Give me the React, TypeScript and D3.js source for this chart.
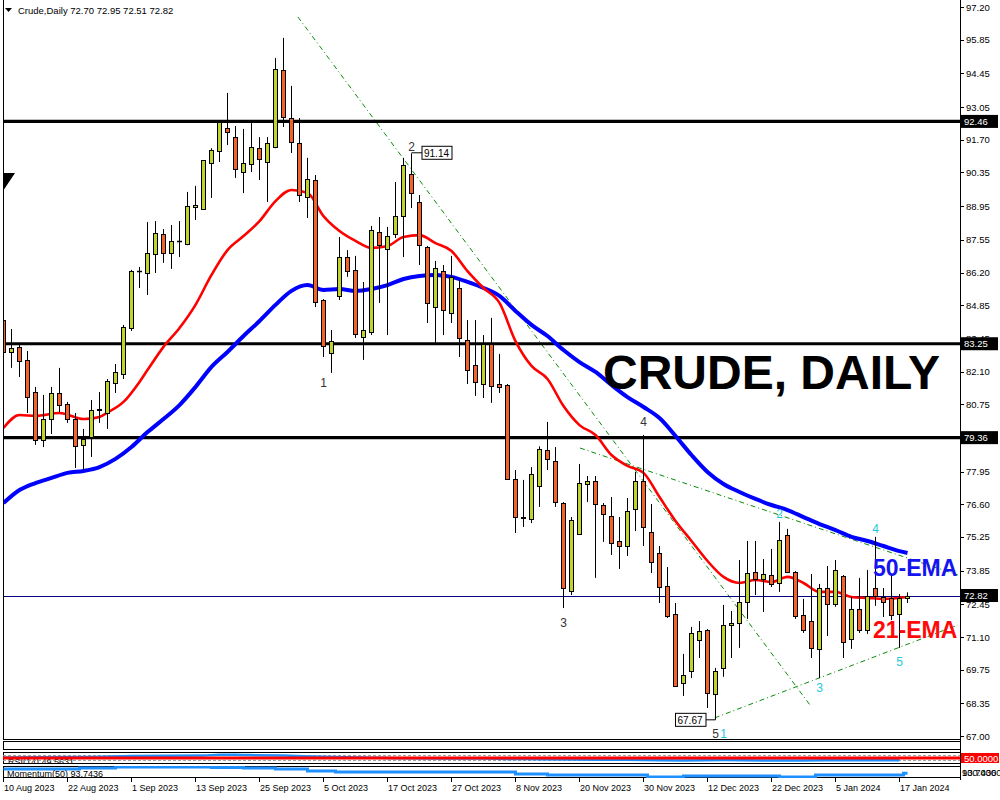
import React from 'react';
import * as d3 from 'd3';

// ---------- DATA (daily candles, 10 Aug 2023 .. 18 Jan 2024) ----------
const opens = [84.23,82.91,83.12,82.58,81.25,79.26,80.13,81.21,80.75,80.13,79.06,79.39,80.51,80.38,81.62,82.00,83.90,86.26,86.18,86.97,87.80,87.01,87.51,87.38,88.92,88.83,90.74,91.23,92.19,91.81,90.36,90.70,91.36,90.78,91.40,94.59,92.60,91.57,89.33,90.03,85.06,82.87,85.23,86.84,86.31,83.53,83.74,87.88,87.18,87.80,88.54,90.28,89.12,87.26,84.77,86.26,84.52,85.56,83.41,82.37,81.58,83.24,81.58,81.54,77.65,76.07,75.99,77.36,78.85,78.39,76.65,73.01,75.37,77.44,77.56,76.57,76.12,75.08,74.87,76.40,77.56,75.45,74.58,73.22,72.06,69.20,69.69,70.98,71.39,68.74,69.82,71.60,71.68,72.55,73.79,73.51,73.67,73.34,75.33,73.79,72.01,71.76,70.61,73.13,72.47,73.63,71.02,72.26,71.39,73.13,72.76,72.72,72.06,72.70];
const highs = [84.94,83.86,83.20,82.95,81.46,81.13,81.46,82.25,80.84,80.38,79.72,80.92,81.25,81.79,82.41,84.03,86.31,86.43,88.29,88.33,88.00,88.17,88.33,89.54,89.79,90.86,91.35,92.50,93.64,92.27,92.15,92.39,91.81,91.81,95.09,95.92,93.93,92.60,90.95,90.24,85.10,83.82,87.67,87.13,86.89,85.81,88.13,88.50,88.09,89.95,90.95,91.14,89.41,87.30,86.68,86.51,86.89,85.89,84.23,84.23,83.61,84.32,82.83,81.58,78.02,77.61,78.14,79.00,80.01,78.97,76.69,76.07,78.27,77.77,77.77,76.65,76.90,76.07,76.86,77.94,79.47,76.61,74.87,74.00,72.51,70.40,71.52,71.76,71.43,69.82,72.43,72.18,74.29,75.08,75.08,74.33,74.75,75.87,75.58,73.83,72.68,73.71,73.30,74.04,74.29,73.67,72.76,73.55,73.88,75.25,73.13,73.67,72.88,72.95];
const lows = [82.66,82.25,81.87,80.38,79.06,78.97,79.51,80.42,79.97,78.10,78.02,78.56,79.97,79.72,81.21,81.79,83.78,85.56,85.27,86.18,86.60,86.35,86.84,87.33,88.38,88.79,89.29,90.78,91.48,90.12,89.49,90.36,90.03,89.12,91.35,92.23,91.15,89.12,88.46,84.77,82.70,82.04,85.06,86.02,83.49,82.58,83.61,84.94,83.61,87.63,86.84,88.87,86.51,84.11,83.20,83.61,84.11,82.70,81.58,81.09,81.00,80.80,81.21,77.61,75.41,75.66,75.82,76.49,78.02,76.49,72.30,72.84,75.33,76.69,73.55,75.04,74.50,73.92,74.46,75.49,74.87,73.75,72.51,71.89,69.03,68.66,69.40,70.23,68.16,67.67,69.45,70.23,70.65,71.85,72.84,72.14,73.17,72.97,73.75,71.85,71.27,70.23,69.40,71.14,72.35,70.23,70.61,71.27,71.23,72.39,71.93,71.80,70.65,72.51];
const closes = [82.91,83.07,82.54,81.04,79.26,80.13,81.21,80.71,80.13,79.01,79.30,80.51,80.53,81.71,82.08,83.94,86.26,86.28,87.01,87.84,87.01,87.51,87.49,88.96,89.00,90.86,91.28,92.44,92.02,90.49,90.74,91.40,90.90,91.57,94.63,92.64,91.61,89.41,90.08,84.98,83.16,83.36,86.84,86.26,83.65,83.82,87.96,87.34,87.71,88.54,90.66,89.49,87.34,84.94,86.39,84.65,86.02,83.49,82.16,81.67,83.24,81.50,81.46,77.65,76.07,76.03,77.85,78.89,78.48,76.69,73.13,75.95,77.48,77.56,76.61,76.20,75.00,74.87,76.32,77.56,75.66,74.21,73.17,71.97,69.07,69.53,71.27,71.35,68.78,69.69,71.60,71.68,72.55,73.75,73.51,73.71,73.30,75.12,73.79,71.97,71.39,70.65,73.13,72.47,73.88,70.90,72.26,71.39,72.80,72.80,72.56,72.01,72.72,72.82];

// 21-EMA and 50-EMA: [bar index, price]
const ema21: [number, number][] = [[0,79.76],[2,80.30],[4,80.26],[7,80.38],[10,80.13],[12,80.22],[13,80.40],[15,80.84],[17,81.67],[18,82.16],[20,83.12],[22,83.90],[24,84.86],[26,86.10],[28,87.13],[30,87.71],[32,88.33],[34,89.16],[36,89.62],[38,89.50],[40,88.54],[42,87.92],[44,87.51],[46,87.22],[48,87.30],[50,87.67],[52,87.75],[54,87.42],[56,87.09],[58,86.26],[60,85.56],[62,84.94],[64,83.36],[66,82.33],[68,81.79],[70,80.67],[72,79.88],[74,79.47],[76,78.64],[78,78.19],[80,77.90],[82,76.90],[84,75.91],[86,75.08],[88,74.25],[90,73.59],[92,73.34],[94,73.46],[96,73.38],[98,73.59],[100,73.34],[102,72.97],[104,72.97],[106,72.76],[108,72.72],[110,72.68],[113,72.76]];
const ema50: [number, number][] = [[0,76.65],[2,77.19],[4,77.48],[6,77.69],[8,77.90],[10,77.98],[12,78.14],[14,78.48],[16,78.97],[18,79.59],[20,80.13],[22,80.71],[24,81.46],[26,82.29],[28,82.91],[30,83.57],[32,84.19],[34,84.86],[36,85.44],[38,85.68],[40,85.48],[42,85.52],[44,85.44],[46,85.52],[48,85.68],[50,85.93],[52,86.06],[54,86.10],[56,86.02],[58,85.81],[60,85.56],[62,85.23],[64,84.61],[66,84.03],[68,83.57],[70,82.99],[72,82.49],[74,82.08],[76,81.54],[78,81.04],[80,80.63],[82,80.17],[84,79.43],[86,78.64],[88,77.94],[90,77.44],[92,77.11],[94,76.82],[96,76.57],[98,76.36],[100,76.07],[102,75.78],[104,75.53],[106,75.25],[108,75.08],[110,74.87],[112,74.66],[113,74.58]];

// indicator panels: [bar index, value]
const rsi: [number, number][] = [[0,55],[10,58],[16,66],[25,70],[27,78],[30,75],[35,70],[40,60],[45,55],[50,48],[60,45],[63,42],[67,40],[75,36],[80,33],[85,30],[90,33],[95,30],[100,30],[105,31],[110,31],[112,32]];
const momentum: [number, number][] = [[0,106.3],[7,106.3],[12,109.2],[16,112.1],[24,112.1],[28,110.6],[32,109.2],[36,106.3],[40,100.4],[43,97.5],[50,97.5],[56,97.5],[62,97.5],[66,91.7],[70,88.8],[78,88.8],[83,82.9],[87,85.8],[95,85.8],[99,82.9],[104,88.8],[108,88.8],[112,88.8],[113,93.74]];

const priceTicks = [97.20,95.85,94.45,93.05,91.70,90.35,88.95,87.55,86.20,84.85,83.45,82.10,80.75,79.40,77.95,76.60,75.25,73.85,72.45,71.10,69.75,68.35,67.00];
const levels = [92.46, 83.25, 79.36];
const lastPrice = 72.82;
const dateBars = [0,8,16,24,32,40,48,56,64,72,80,88,96,104,112];
const dateLabels = ['10 Aug 2023','22 Aug 2023','1 Sep 2023','13 Sep 2023','25 Sep 2023','5 Oct 2023','17 Oct 2023','27 Oct 2023','8 Nov 2023','20 Nov 2023','30 Nov 2023','12 Dec 2023','22 Dec 2023','5 Jan 2024','17 Jan 2024'];

// Elliott wave labels: text, bar, price, colour group
const waveText = ['1','2','3','4','5','1','2','3','4','5'];
const waveBar = [40,51,70,80,89,90,97,102,109,112];
const wavePrice = [81.58,91.36,71.64,79.97,67.05,67.05,76.16,68.95,75.53,70.03];
const waveCyan = [false,false,false,false,false,true,true,true,true,true];

// trend lines: [bar1, price1, bar2, price2]
const trendLines: [number, number, number, number][] = [
  [36.8, 96.79, 100.8, 68.29],
  [72.06, 78.93, 119.3, 73.67],
  [88.9, 67.75, 119.3, 71.60],
];

const FONT = "'Liberation Sans', Arial, sans-serif";

export default function App() {
  const x = d3.scaleLinear().domain([0, 1]).range([3.5, 11.5]);
  const y = d3.scaleLinear().domain([67, 97.2]).range([736, 7]);
  const plotL = 3, plotR = 960, plotT = 0, plotB = 739;

  const yRsi = d3.scaleLinear().domain([0, 100]).range([764, 752]);
  const yMom = d3.scaleLinear().domain([80, 115]).range([778, 766]);

  const lineP = d3.line<[number, number]>().x(d => x(d[0])).y(d => y(d[1])).curve(d3.curveMonotoneX);
  const lineR = d3.line<[number, number]>().x(d => x(d[0])).y(d => yRsi(d[1])).curve(d3.curveMonotoneX);
  const lineM = d3.line<[number, number]>().x(d => x(d[0])).y(d => yMom(d[1])).curve(d3.curveStep);

  const bull = '#c2d22c';
  const bear = '#f2622a';

  const candles = opens.map((o, i) => {
    const c = closes[i];
    const xc = x(i);
    const top = Math.round(y(Math.max(o, c)));
    const bot = Math.round(y(Math.min(o, c)));
    const up = c >= o;
    return (
      <g key={i}>
        <line x1={xc} x2={xc} y1={y(highs[i])} y2={y(lows[i])} stroke="#000" strokeWidth={1} />
        {bot - top < 1 ? (
          <line x1={xc - 2.5} x2={xc + 2.5} y1={top + 0.5} y2={top + 0.5} stroke="#000" strokeWidth={1.5} />
        ) : (
          <rect x={xc - 2} y={top + 0.5} width={4} height={bot - top} fill={up ? bull : bear} stroke="#000" strokeWidth={1} />
        )}
      </g>
    );
  });

  const lblBox = (v: number, key: string, bg = '#000', fg = '#fff', txt?: string) => (
    <g key={key}>
      <rect x={961} y={y(v) - 6.5} width={37} height={13} fill={bg} />
      <text x={964} y={y(v) + 3.5} fontSize={9.5} fontFamily={FONT} fill={fg}>{txt ?? v.toFixed(2)}</text>
    </g>
  );

  return (
    <svg width={1000} height={800} style={{ position: 'absolute', left: 0, top: 0, background: '#fff' }}>
      <defs>
        <clipPath id="plot"><rect x={plotL} y={plotT} width={plotR - plotL} height={plotB - plotT} /></clipPath>
        <clipPath id="rsiClip"><rect x={plotL} y={752} width={plotR - plotL} height={12} /></clipPath>
        <clipPath id="momClip"><rect x={plotL} y={766} width={plotR - plotL} height={12} /></clipPath>
      </defs>
      <rect x={0} y={0} width={1000} height={800} fill="#fff" />

      {/* header */}
      <polygon points="5,8 12,8 8.5,12" fill="#000" />
      <text x={18} y={14} fontSize={9.5} fontFamily={FONT} fill="#000">Crude,Daily  72.70 72.95 72.51 72.82</text>

      <g clipPath="url(#plot)">
        {/* trend lines */}
        {trendLines.map((t, i) => (
          <line key={i} x1={x(t[0])} y1={y(t[1])} x2={x(t[2])} y2={y(t[3])} stroke="#0a8a0a" strokeWidth={1} strokeDasharray="5,3,1,3" />
        ))}
        {/* horizontal levels */}
        {levels.map(v => (
          <line key={v} x1={plotL} x2={plotR} y1={y(v)} y2={y(v)} stroke="#000" strokeWidth={3.2} />
        ))}
        <line x1={plotL} x2={plotR} y1={Math.round(y(lastPrice)) + 0.5} y2={Math.round(y(lastPrice)) + 0.5} stroke="#000080" strokeWidth={1} />
        {/* EMAs */}
        <path d={lineP(ema50) || ''} fill="none" stroke="#0000ff" strokeWidth={4} />
        <path d={lineP(ema21) || ''} fill="none" stroke="#ff0000" strokeWidth={2.6} />
        {candles}
        {/* wave labels */}
        {waveText.map((t, i) => (
          <text key={i} x={x(waveBar[i])} y={y(wavePrice[i])} fontSize={12} fontFamily={FONT} textAnchor="middle" dominantBaseline="middle" fill={waveCyan[i] ? '#22c8dc' : '#333'}>{t}</text>
        ))}
        {/* price callouts */}
        <line x1={x(51)} x2={x(51) + 10.5} y1={y(91.14) - 0.5} y2={y(91.14) - 0.5} stroke="#000" />
        <rect x={x(51) + 10.5} y={y(91.14) - 7} width={30} height={13} fill="#fff" stroke="#000" />
        <text x={x(51) + 12.5} y={y(91.14) + 4} fontSize={10} fontFamily={FONT}>91.14</text>
        <line x1={x(89)} x2={x(89) - 9.5} y1={y(67.67)} y2={y(67.67)} stroke="#000" />
        <rect x={x(89) - 40} y={y(67.67) - 6.5} width={30.5} height={13} fill="#fff" stroke="#000" />
        <text x={x(89) - 38} y={y(67.67) + 4} fontSize={10} fontFamily={FONT}>67.67</text>
        {/* left marker */}
        <polygon points="3,173 15,173 3,191" fill="#000" />
        {/* big titles */}
        <text x={603} y={389} fontSize={48} fontWeight="bold" fontFamily={FONT} fill="#000">CRUDE, DAILY</text>
        <text x={873} y={576} fontSize={23} fontWeight="bold" fontFamily={FONT} fill="#1414f0">50-EMA</text>
        <text x={873} y={638} fontSize={23} fontWeight="bold" fontFamily={FONT} fill="#ff0a0a">21-EMA</text>
      </g>

      {/* main frame */}
      <line x1={plotL + 0.5} x2={plotL + 0.5} y1={0} y2={plotB} stroke="#000" />
      <line x1={plotL} x2={plotR} y1={plotB + 0.5} y2={plotB + 0.5} stroke="#000" />
      <line x1={plotR + 0.5} x2={plotR + 0.5} y1={0} y2={780} stroke="#000" />

      {/* price axis */}
      {priceTicks.map(v => (
        <g key={v}>
          <line x1={plotR} x2={plotR + 4} y1={Math.round(y(v)) + 0.5} y2={Math.round(y(v)) + 0.5} stroke="#000" />
          <text x={966} y={y(v) + 3.5} fontSize={9.5} fontFamily={FONT} fill="#000">{v.toFixed(2)}</text>
        </g>
      ))}
      {levels.map(v => lblBox(v, 'l' + v))}
      {lblBox(lastPrice, 'last')}

      {/* sub panels */}
      <rect x={plotL + 0.5} y={741.5} width={plotR - plotL} height={8} fill="#fff" stroke="#000" />
      <rect x={plotL + 0.5} y={752.5} width={plotR - plotL} height={11} fill="#fff" stroke="#000" />
      <rect x={plotL + 0.5} y={766.5} width={plotR - plotL} height={11} fill="#fff" stroke="#000" />

      <g clipPath="url(#rsiClip)">
        <text x={8} y={765} fontSize={9} fontFamily={FONT} fill="#000">RSI(14) 49.5631</text>
        <line x1={plotL} x2={plotR} y1={yRsi(70)} y2={yRsi(70)} stroke="#999" strokeDasharray="3,2" />
        <line x1={plotL} x2={plotR} y1={yRsi(30)} y2={yRsi(30)} stroke="#999" strokeDasharray="3,2" />
        <path d={lineR(rsi) || ''} fill="none" stroke="#1e90ff" strokeWidth={2.5} />
        <line x1={plotL} x2={plotR} y1={yRsi(50)} y2={yRsi(50)} stroke="#ff0000" strokeWidth={3} />
      </g>
      <rect x={961} y={753} width={38} height={10} fill="#ff0000" />
      <text x={964} y={761.5} fontSize={9.5} fontFamily={FONT} fill="#fff">50.0000</text>

      <g clipPath="url(#momClip)">
        <path d={lineM(momentum) || ''} fill="none" stroke="#1e90ff" strokeWidth={3} />
        <text x={7} y={777} fontSize={9} fontFamily={FONT} fill="#000">Momentum(50) 93.7436</text>
      </g>
      <text x={962} y={776} fontSize={9.5} fontFamily={FONT} fill="#000">100.0000</text>
      <text x={962} y={776} fontSize={9.5} fontFamily={FONT} fill="#000">93.7436</text>

      {/* date axis */}
      {dateBars.map((b, i) => (
        <g key={b}>
          <line x1={Math.floor(x(b)) + 0.5} x2={Math.floor(x(b)) + 0.5} y1={778} y2={782} stroke="#000" />
          <text x={x(b) + 0.5} y={791} fontSize={9} fontFamily={FONT} fill="#000">{dateLabels[i]}</text>
        </g>
      ))}
    </svg>
  );
}
